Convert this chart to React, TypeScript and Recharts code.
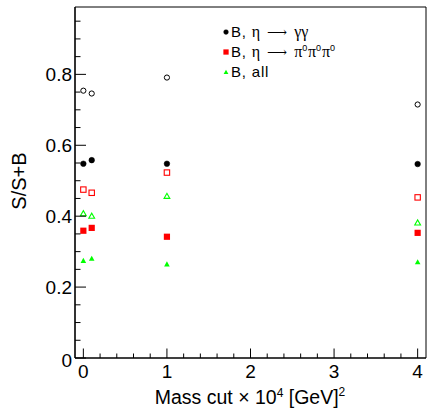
import React from 'react';
import { ScatterChart, Scatter, XAxis, YAxis, Legend, ReferenceArea } from 'recharts';

// S/(S+B) versus mass cut
const massCuts = [0, 0.1, 1, 4];
const ggOpen = [0.754, 0.746, 0.791, 0.715];
const ggFilled = [0.548, 0.558, 0.548, 0.547];
const pi0Open = [0.475, 0.466, 0.523, 0.453];
const pi0Filled = [0.359, 0.367, 0.342, 0.353];
const allOpen = [0.408, 0.401, 0.457, 0.382];
const allFilled = [0.275, 0.281, 0.265, 0.271];

const xMajor = [0, 1, 2, 3, 4];
const yMajor = [0, 0.2, 0.4, 0.6, 0.8];
const yLabels = ['0', '0.2', '0.4', '0.6', '0.8'];

const xTicks: number[] = [];
for (let i = 0; i <= 20; i++) xTicks.push(Math.round(i * 20) / 100);
const yTicks: number[] = [];
for (let i = 0; i <= 19; i++) yTicks.push(Math.round(i * 5) / 100);

const FONT = '"Liberation Sans", Arial, Helvetica, sans-serif';
const SERIF = '"Liberation Serif", "DejaVu Serif", serif';
const BLACK = '#000000';
const RED = '#ff0000';
const GREEN = '#00ff00';

const toPoints = (ys: number[]) => massCuts.map((x, i) => ({ x, y: ys[i] }));

const isMajor = (v: number, majors: number[]) => majors.some((m) => Math.abs(m - v) < 1e-6);

type Kind = 'circle' | 'square' | 'triangle';

function Marker({ kind, cx, cy, color, filled }: { kind: Kind; cx: number; cy: number; color: string; filled: boolean }) {
  const fill = filled ? color : 'none';
  if (kind === 'circle') {
    return <circle cx={cx} cy={cy} r={filled ? 2.8 : 2.6} fill={fill} stroke={color} strokeWidth={filled ? 0.5 : 1} />;
  }
  if (kind === 'square') {
    const h = filled ? 3.1 : 2.7;
    return (
      <rect x={cx - h} y={cy - h} width={h * 2} height={h * 2} fill={fill} stroke={color} strokeWidth={filled ? 0 : 1.1} />
    );
  }
  const w = filled ? 2.8 : 2.9;
  return (
    <path
      d={`M${cx - w},${cy + 2.4} L${cx + w},${cy + 2.4} L${cx},${cy - 2.7} Z`}
      fill={fill}
      stroke={color}
      strokeWidth={filled ? 0 : 1.1}
      strokeLinejoin="miter"
    />
  );
}

const shapeOf = (kind: Kind, color: string, filled: boolean) => (props: any) =>
  <Marker kind={kind} cx={props.cx} cy={props.cy} color={color} filled={filled} />;

function XTick(props: any) {
  const { x, y, payload } = props;
  const major = isMajor(payload.value, xMajor);
  return (
    <g>
      <line x1={x} x2={x} y1={y} y2={y - (major ? 9.5 : 4.5)} stroke={BLACK} strokeWidth={1} />
      {major && (
        <text x={x} y={y + 20} textAnchor="middle" fontFamily={FONT} fontSize={19} fill={BLACK}>
          {String(payload.value)}
        </text>
      )}
    </g>
  );
}

function YTick(props: any) {
  const { x, y, payload } = props;
  const idx = yMajor.findIndex((m) => Math.abs(m - payload.value) < 1e-6);
  const major = idx >= 0;
  return (
    <g>
      <line x1={x} x2={x + (major ? 11 : 5.5)} y1={y} y2={y} stroke={BLACK} strokeWidth={1} />
      {major && (
        <text x={x - 3} y={y + (idx === 0 ? 9 : 7)} textAnchor="end" fontFamily={FONT} fontSize={19} fill={BLACK}>
          {yLabels[idx]}
        </text>
      )}
    </g>
  );
}

function XTitle() {
  return (
    <text x={250} y={404} textAnchor="middle" fontFamily={FONT} fontSize={19.5} fill={BLACK}>
      Mass cut × 10
      <tspan dy={-7} fontSize={12}>4</tspan>
      <tspan dy={7}> [GeV]</tspan>
      <tspan dy={-8} fontSize={12}>2</tspan>
    </text>
  );
}

function YTitle() {
  return (
    <text
      x={0}
      y={0}
      transform="translate(25.5,181) rotate(-90)"
      textAnchor="middle"
      fontFamily={FONT}
      fontSize={20}
      fill={BLACK}
    >
      S/S+B
    </text>
  );
}

const G = ({ children }: { children: React.ReactNode }) => (
  <span style={{ fontFamily: SERIF, letterSpacing: 0, fontSize: 16 }}>{children}</span>
);
const Arrow = () => (
  <span style={{ fontFamily: SERIF, letterSpacing: 0, fontSize: 14, margin: '0 2px' }}>⟶</span>
);
const Zero = () => <sup style={{ fontSize: 9, verticalAlign: 6, lineHeight: 0, fontFamily: FONT }}>0</sup>;

const legendRows: { label: React.ReactNode; kind: Kind; color: string }[] = [
  {
    label: (
      <>
        B, <G>η</G> <Arrow /> <G>γγ</G>
      </>
    ),
    kind: 'circle',
    color: BLACK,
  },
  {
    label: (
      <>
        B, <G>η</G> <Arrow /> <G>π</G>
        <Zero />
        <G>π</G>
        <Zero />
        <G>π</G>
        <Zero />
      </>
    ),
    kind: 'square',
    color: RED,
  },
  { label: <>B, all</>, kind: 'triangle', color: GREEN },
];

function LegendBox() {
  return (
    <div style={{ fontFamily: FONT, fontSize: 15, color: BLACK, letterSpacing: 0.8, textAlign: 'left' }}>
      {legendRows.map((r, i) => (
        <div key={i} style={{ display: 'flex', alignItems: 'center', height: 19.7, whiteSpace: 'nowrap' }}>
          <svg width={10} height={10} style={{ display: 'block' }}>
            <g transform="scale(0.85) translate(0.9,0.9)">
              <Marker kind={r.kind} cx={5} cy={5} color={r.color} filled={true} />
            </g>
          </svg>
          <span>{r.label}</span>
        </div>
      ))}
    </div>
  );
}

export default function App() {
  return (
    <div style={{ position: 'absolute', left: 0, top: 0, width: 427, height: 412, background: '#ffffff' }}>
      <ScatterChart width={427} height={412} margin={{ top: 7, right: 1, bottom: 0, left: 0 }}>
        <XAxis
          type="number"
          dataKey="x"
          domain={[-0.1, 4.1]}
          ticks={xTicks}
          interval={0}
          allowDataOverflow
          height={54}
          tickSize={0}
          tickMargin={0}
          tickLine={false}
          axisLine={{ stroke: BLACK, strokeWidth: 1.2 }}
          tick={<XTick />}
          label={<XTitle />}
        />
        <YAxis
          type="number"
          dataKey="y"
          domain={[0, 0.99]}
          ticks={yTicks}
          interval={0}
          allowDataOverflow
          width={75}
          tickSize={0}
          tickMargin={0}
          tickLine={false}
          axisLine={{ stroke: BLACK, strokeWidth: 1.2 }}
          tick={<YTick />}
          label={<YTitle />}
        />
        <ReferenceArea x1={-0.1} x2={4.1} y1={0} y2={0.99} fill="none" stroke={BLACK} strokeWidth={1} ifOverflow="visible" />
        <Legend
          layout="horizontal"
          verticalAlign="middle"
          align="center"
          content={<LegendBox />}
          wrapperStyle={{ position: 'absolute', top: 22.5, left: 221, width: 'auto', height: 'auto' }}
        />
        <Scatter name="open gg" data={toPoints(ggOpen)} shape={shapeOf('circle', BLACK, false)} isAnimationActive={false} legendType="none" />
        <Scatter name="B, η → γγ" data={toPoints(ggFilled)} shape={shapeOf('circle', BLACK, true)} isAnimationActive={false} />
        <Scatter name="open pi0" data={toPoints(pi0Open)} shape={shapeOf('square', RED, false)} isAnimationActive={false} legendType="none" />
        <Scatter name="B, η → π0π0π0" data={toPoints(pi0Filled)} shape={shapeOf('square', RED, true)} isAnimationActive={false} />
        <Scatter name="open all" data={toPoints(allOpen)} shape={shapeOf('triangle', GREEN, false)} isAnimationActive={false} legendType="none" />
        <Scatter name="B, all" data={toPoints(allFilled)} shape={shapeOf('triangle', GREEN, true)} isAnimationActive={false} />
      </ScatterChart>
    </div>
  );
}
